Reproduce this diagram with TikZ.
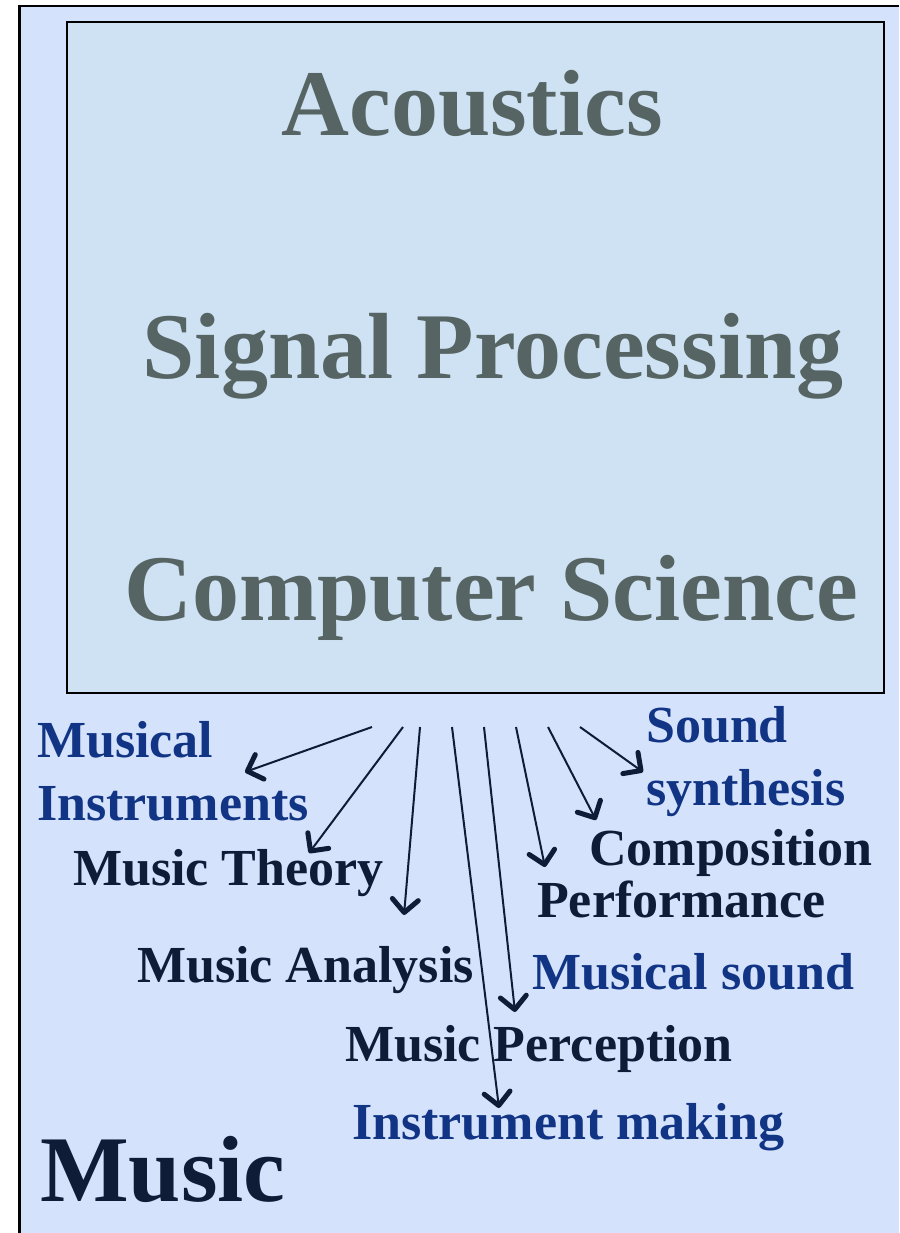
\documentclass[tikz,border=0pt]{standalone}
\usepackage{fontspec}
\setmainfont{Liberation Serif}
\usetikzlibrary{arrows.meta}
\definecolor{outerbg}{HTML}{D4E2FC}
\definecolor{innerbg}{HTML}{CEE2F3}
\definecolor{titlegray}{HTML}{566463}
\definecolor{navy}{HTML}{0E1C38}
\definecolor{labelblue}{HTML}{113584}
\begin{document}
\begin{tikzpicture}[x=1pt,y=-1pt,
  title/.style={font=\fontsize{94}{100}\selectfont\bfseries, text=titlegray, inner sep=0, anchor=base},
  lbl/.style={font=\fontsize{52}{63}\selectfont\bfseries, inner sep=0, anchor=base west, align=left},
  dark/.style={lbl, text=navy},
  bluelbl/.style={lbl, text=labelblue},
  link/.style={draw=navy, line width=2pt, arrows={-Straight Barb[length=13pt,width=26pt,line width=5pt 0,round]}}
]
\useasboundingbox (0,0) rectangle (899,1233);
\fill[white] (0,0) rectangle (899,1233);
\fill[outerbg] (19.5,6) rectangle (899,1233);
\draw[line width=2.5pt, black] (19.5,1233) -- (19.5,6) -- (899,6);
\draw[line width=2.5pt, black, fill=innerbg] (67,22) rectangle (884,693);

\node[title] (ac) at (472,136) {Acoustics};
\node[title] (sp) at (493,378) {Signal Processing};
\node[title] (cs) at (491,620) {Computer Science};

\node[bluelbl] (mi) at (37,820) {Musical\\Instruments};
\node[dark] (mt) at (73,885) {Music Theory};
\node[dark] (ma) at (137,982) {Music Analysis};
\node[dark] (mp) at (345,1061) {Music Perception};
\node[bluelbl] (im) at (352,1139) {Instrument making};
\node[bluelbl] (ms) at (532,989) {Musical sound};
\node[dark] (pf) at (537,917) {Performance};
\node[dark] (cp) at (589,865) {Composition};
\node[bluelbl] (ss) at (646,805) {Sound\\synthesis};
\node[font=\fontsize{94}{100}\selectfont\bfseries, text=navy, inner sep=0, anchor=base west] (mu) at (40,1201) {Music};

\coordinate (s1) at (372,727); \coordinate (e1) at (245,772);
\coordinate (s2) at (403,727); \coordinate (e2) at (309,853);
\coordinate (s3) at (420,727); \coordinate (e3) at (404,915);
\coordinate (s4) at (452,727); \coordinate (e4) at (499,1108);
\coordinate (s5) at (484,727); \coordinate (e5) at (515,1012);
\coordinate (s6) at (516,727); \coordinate (e6) at (545,867);
\coordinate (s7) at (548,727); \coordinate (e7) at (596,820);
\coordinate (s8) at (580,727); \coordinate (e8) at (643,772);
\foreach \i in {1,...,8} { \draw[link] (s\i) -- (e\i); }
\end{tikzpicture}
\end{document}
